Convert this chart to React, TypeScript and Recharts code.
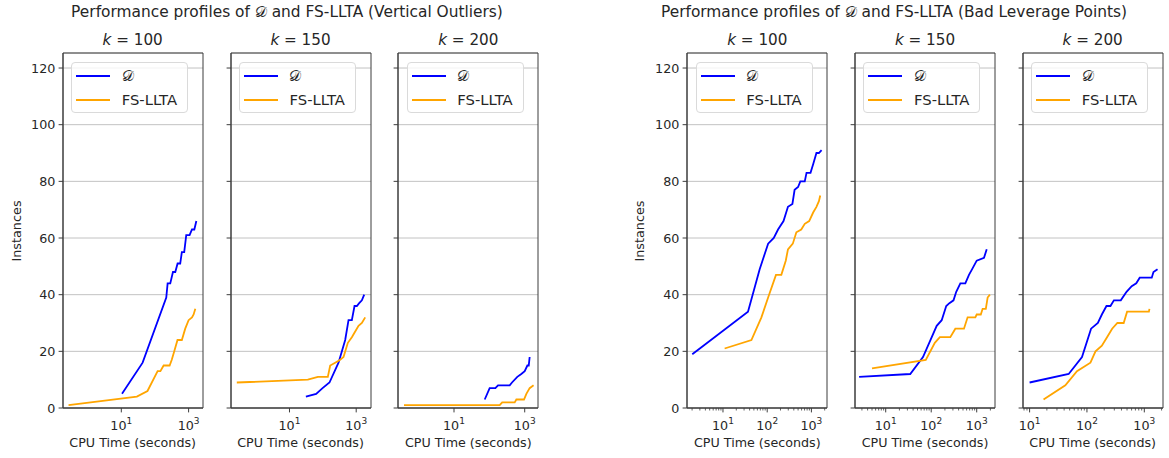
import { CartesianGrid, Legend, Line, LineChart, ReferenceArea, XAxis, YAxis } from 'recharts';

type Pt = [number, number];

// [CPU seconds, instances solved]
// Vertical outliers
const voD100: Pt[] = [[10.5, 5], [43, 16], [217, 39], [238, 44], [285, 44], [343, 48], [402, 48], [471, 51], [563, 51], [630, 55], [741, 55], [851, 61], [1070, 61], [1260, 63], [1480, 63], [1700, 66]];
const voFs100: Pt[] = [[0.27, 1], [29, 4], [60, 6], [120, 13], [145, 13], [181, 15], [273, 15], [316, 17], [375, 20], [468, 24], [630, 24], [794, 28], [1000, 31], [1260, 32], [1410, 33], [1585, 35]];
const voD150: Pt[] = [[31, 4], [63, 5], [98, 7], [158, 9], [295, 16], [468, 24], [589, 31], [741, 31], [891, 36], [1047, 36], [1230, 37], [1480, 38], [1738, 40]];
const voFs150: Pt[] = [[0.263, 9], [35.5, 10], [71, 11], [141, 11], [166, 15], [234, 16], [331, 17], [417, 18], [562, 23], [741, 25], [933, 27], [1175, 29], [1480, 30], [1862, 32]];
const voD200: Pt[] = [[74, 3], [102, 7], [148, 7], [176, 8], [376, 8], [437, 9], [617, 11], [800, 12], [1000, 13], [1190, 15], [1300, 15], [1380, 18]];
const voFs200: Pt[] = [[0.385, 1], [196, 1], [231, 2], [521, 2], [581, 3], [955, 3], [1114, 5], [1380, 7], [1780, 8]];

// Bad leverage points
const blD100: Pt[] = [[2.02, 19], [36.8, 34], [67.6, 49], [105, 58], [141, 60], [176, 63], [234, 66], [295, 71], [372, 72], [417, 77], [500, 78], [562, 80], [708, 80], [776, 83], [955, 83], [1096, 86], [1300, 90], [1480, 90], [1700, 91]];
const blFs100: Pt[] = [[10.9, 21], [44, 24], [74, 32], [105, 39], [158, 47], [209, 47], [263, 52], [295, 56], [380, 58], [457, 62], [589, 63], [708, 65], [891, 66], [1096, 69], [1300, 71], [1480, 73], [1585, 75]];
const blD150: Pt[] = [[2.6, 11], [34.6, 12], [66, 18], [132, 29], [170, 31], [214, 36], [251, 37], [309, 38], [355, 41], [437, 44], [562, 44], [676, 47], [794, 49], [1000, 52], [1445, 53], [1660, 56]];
const blFs150: Pt[] = [[5.0, 14], [76, 17], [120, 23], [155, 25], [263, 25], [339, 28], [525, 28], [631, 32], [933, 32], [1000, 33], [1230, 33], [1349, 35], [1585, 35], [1738, 39], [1950, 40]];
const blD200: Pt[] = [[10, 9], [48, 12], [82, 18], [118, 28], [155, 30], [182, 33], [219, 36], [257, 36], [295, 38], [389, 38], [490, 41], [603, 43], [724, 44], [832, 46], [1349, 46], [1445, 48], [1700, 49]];
const blFs200: Pt[] = [[17.5, 3], [42, 8], [67, 13], [115, 16], [141, 20], [182, 22], [224, 25], [275, 28], [339, 30], [437, 30], [501, 34], [1202, 34], [1230, 35]];

const yTicks = [0, 20, 40, 60, 80, 100, 120];
const sparseTicks = [10, 1000];
const denseTicks = [10, 100, 1000];

const seriesNames = ['\u{1D49F}', 'FS-LLTA'];
const groupTitles = ['Vertical Outliers', 'Bad Leverage Points'];
const xLabel = 'CPU Time (seconds)';
const yLabel = 'Instances';

const FONT = '"DejaVu Sans", sans-serif';
const TEXT = '#262626';
const SPINE = '#3d3d3d';
const H = 458;
const TOP = 53;
const AXH = 50;
const YW = 60;
const PW = 140;
const RM = 4;
const YMAX = 125.3;

interface PanelCfg {
  left: number;
  exps: [number, number];
  majors: number[];
  minor: boolean;
  d: Pt[];
  fs: Pt[];
  k: number;
  yLabels: boolean;
}

const panels: PanelCfg[] = [
  { left: 62.7, exps: [-0.733, 3.428], majors: sparseTicks, minor: false, d: voD100, fs: voFs100, k: 100, yLabels: true },
  { left: 230.5, exps: [-0.754, 3.444], majors: sparseTicks, minor: false, d: voD150, fs: voFs150, k: 150, yLabels: false },
  { left: 398.3, exps: [-0.584, 3.376], majors: sparseTicks, minor: false, d: voD200, fs: voFs200, k: 200, yLabels: false },
  { left: 687.3, exps: [0.186, 3.353], majors: denseTicks, minor: true, d: blD100, fs: blFs100, k: 100, yLabels: true },
  { left: 855, exps: [0.325, 3.402], majors: denseTicks, minor: true, d: blD150, fs: blFs150, k: 150, yLabels: false },
  { left: 1022.7, exps: [0.885, 3.326], majors: denseTicks, minor: true, d: blD200, fs: blFs200, k: 200, yLabels: false },
];

function minorTicks(lo: number, hi: number) {
  const out: number[] = [];
  for (let e = Math.floor(Math.log10(lo)); e <= Math.ceil(Math.log10(hi)); e++) {
    for (let m = 2; m <= 9; m++) {
      const v = m * 10 ** e;
      if (v >= lo && v <= hi) out.push(v);
    }
  }
  return out;
}

function LogTick(props: any) {
  const { x, y, payload, majors } = props;
  const v = payload.value;
  if (!majors.includes(v)) {
    return <line x1={x} x2={x} y1={y} y2={y + 2.5} stroke={SPINE} strokeWidth={0.8} />;
  }
  const exp = Math.round(Math.log10(v));
  return (
    <g>
      <line x1={x} x2={x} y1={y} y2={y + 4.4} stroke={SPINE} strokeWidth={1} />
      <text x={x} y={y + 21.7} textAnchor="middle" fill={TEXT} fontSize={12.7} fontFamily={FONT}>
        <tspan>10</tspan>
        <tspan dy={-6} fontSize={9}>{exp}</tspan>
      </text>
    </g>
  );
}

function LegendBox({ payload }: any) {
  const items = [...(payload || [])].sort(
    (a: any, b: any) => seriesNames.indexOf(a.value) - seriesNames.indexOf(b.value),
  );
  return (
    <div
      style={{
        boxSizing: 'border-box',
        width: 117,
        height: 51,
        border: '1px solid #dadada',
        borderRadius: 4,
        background: 'rgba(255,255,255,0.8)',
        position: 'relative',
        fontFamily: FONT,
        fontSize: 14.8,
        color: TEXT,
      }}
    >
      {items.map((e: any, i: number) => (
        <div key={i} style={{ position: 'absolute', left: 0, top: 3 + i * 24.3, height: 20, width: '100%' }}>
          <span style={{ position: 'absolute', left: 4, top: 9, width: 34, height: 2, background: e.color }} />
          <span style={{ position: 'absolute', left: 49.7, top: 0, lineHeight: '20px', whiteSpace: 'nowrap' }}>{e.value}</span>
        </div>
      ))}
    </div>
  );
}

function Panel({ p }: { p: PanelCfg }) {
  const lo = 10 ** p.exps[0];
  const hi = 10 ** p.exps[1];
  const ticks = p.minor ? [...p.majors, ...minorTicks(lo, hi)] : p.majors;
  const dData = p.d.map(([t, n]) => ({ t, n }));
  const fsData = p.fs.map(([t, n]) => ({ t, n }));
  return (
    <div style={{ position: 'absolute', left: p.left - YW, top: 0 }}>
      <LineChart width={YW + PW + RM} height={H} margin={{ top: TOP, right: RM, bottom: 0, left: 0 }}>
        <CartesianGrid vertical={false} stroke="#c2c2c2" strokeWidth={1} />
        <XAxis
          type="number"
          dataKey="t"
          scale="log"
          domain={[lo, hi]}
          allowDataOverflow
          ticks={ticks}
          interval={0}
          height={AXH}
          tickSize={0}
          tickMargin={0}
          tickLine={false}
          axisLine={{ stroke: SPINE, strokeWidth: 1 }}
          tick={(tp: any) => <LogTick {...tp} majors={p.majors} />}
        />
        <YAxis
          type="number"
          domain={[0, YMAX]}
          allowDataOverflow
          ticks={yTicks}
          interval={0}
          width={YW}
          tickSize={4.4}
          tickMargin={3.3}
          stroke={SPINE}
          tickLine={{ stroke: SPINE }}
          axisLine={{ stroke: SPINE, strokeWidth: 1 }}
          tick={{ fill: TEXT, fontSize: 12.7, fontFamily: FONT }}
          tickFormatter={(v: number) => (p.yLabels ? String(v) : '')}
        />
        <ReferenceArea x1={lo} x2={hi} y1={0} y2={YMAX} fill="none" fillOpacity={0} stroke={SPINE} strokeWidth={1} ifOverflow="visible" />
        <Line data={dData} dataKey="n" name={seriesNames[0]} type="linear" stroke="#0000ff" strokeWidth={1.8} dot={false} isAnimationActive={false} />
        <Line data={fsData} dataKey="n" name={seriesNames[1]} type="linear" stroke="#ffa500" strokeWidth={1.8} dot={false} isAnimationActive={false} />
        <Legend
          layout="horizontal"
          verticalAlign="middle"
          align="center"
          itemSorter={null as any}
          wrapperStyle={{ left: YW + 8.3, top: TOP + 9, width: 117, height: 51 }}
          content={(lp: any) => <LegendBox payload={lp.payload} />}
        />
      </LineChart>
    </div>
  );
}

export default function App() {
  const centers = panels.map((p) => p.left + PW / 2);
  return (
    <div style={{ position: 'absolute', left: 0, top: 0, width: 1169, height: H, background: '#fff', fontFamily: FONT }}>
      {panels.map((p, i) => (
        <Panel key={i} p={p} />
      ))}
      <svg width={1169} height={H} style={{ position: 'absolute', left: 0, top: 0, pointerEvents: 'none' }}>
        {groupTitles.map((g, i) => (
          <text key={g} x={i === 0 ? 287 : 894} y={17} textAnchor="middle" fontSize={15.4} fill={TEXT} fontFamily={FONT}>
            {`Performance profiles of ${seriesNames[0]} and FS-LLTA (${g})`}
          </text>
        ))}
        {panels.map((p, i) => (
          <text key={`k${i}`} x={centers[i]} y={44.5} textAnchor="middle" fontSize={15.2} fill={TEXT} fontFamily={FONT}>
            <tspan fontStyle="italic">k</tspan>
            <tspan>{` = ${p.k}`}</tspan>
          </text>
        ))}
        {panels.map((p, i) => (
          <text key={`x${i}`} x={centers[i]} y={446.5} textAnchor="middle" fontSize={12.7} fill={TEXT} fontFamily={FONT}>
            {xLabel}
          </text>
        ))}
        {[20.7, 644].map((x) => (
          <text key={x} x={x} y={231} transform={`rotate(-90 ${x} 231)`} textAnchor="middle" fontSize={12.8} fill={TEXT} fontFamily={FONT}>
            {yLabel}
          </text>
        ))}
      </svg>
    </div>
  );
}
